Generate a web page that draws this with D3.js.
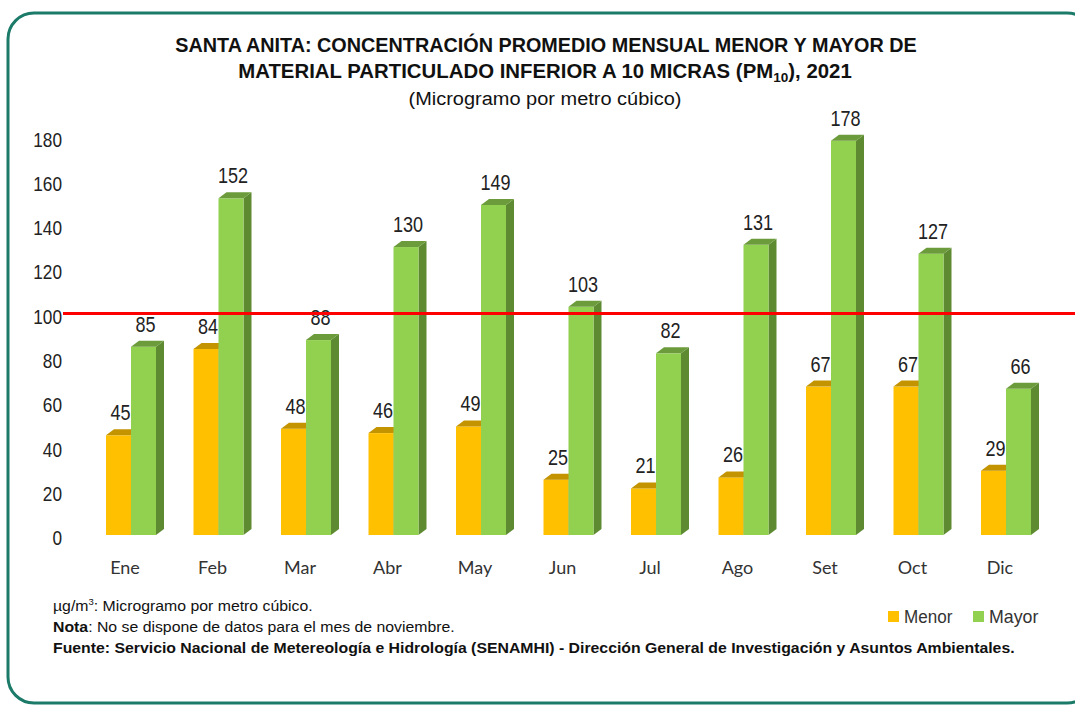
<!DOCTYPE html>
<html>
<head>
<meta charset="utf-8">
<script src="https://cdn.jsdelivr.net/npm/d3@7"></script>
<style>
  body { margin: 0; background: #fff; }
  text { font-family: "Liberation Sans", Arial, sans-serif; }
  .calib { font-family: Lato, "Open Sans", sans-serif; }
</style>
</head>
<body>
<div id="chart"></div>
<script>
// data
const months = ["Ene", "Feb", "Mar", "Abr", "May", "Jun", "Jul", "Ago", "Set", "Oct", "Dic"];
const menor = [45, 84, 48, 46, 49, 25, 21, 26, 67, 67, 29];
const mayor = [85, 152, 88, 130, 149, 103, 82, 131, 178, 127, 66];
const yTicks = [0, 20, 40, 60, 80, 100, 120, 140, 160, 180];
const limite = 100;
const seriesNames = ["Menor", "Mayor"];

const W = 1075, H = 706;
const depthX = 8, depthY = 6;
const squeeze = 0.82; // fake a narrow font

const colors = {
  Menor: { front: "#ffc000", top: "#c39300", side: "#b08500" },
  Mayor: { front: "#92d050", top: "#6c9b3b", side: "#5e8a32" }
};

const svg = d3.select("#chart").append("svg")
  .attr("width", W)
  .attr("height", H);

// squeeze a text horizontally around ax, either by factor or to a target width
function narrow(sel, ax, k) {
  sel.attr("transform", `translate(${ax},0) scale(${k},1) translate(${-ax},0)`);
}
function fitWidth(sel, ax, target) {
  const w = sel.node().getBBox().width;
  narrow(sel, ax, target / w);
}

// rounded frame
svg.append("rect")
  .attr("x", 8).attr("y", 13)
  .attr("width", 1085).attr("height", 690)
  .attr("rx", 26).attr("ry", 26)
  .attr("fill", "none")
  .attr("stroke", "#1b7a68")
  .attr("stroke-width", 3);

// titles
const t1 = svg.append("text")
  .attr("x", 546).attr("y", 52)
  .attr("text-anchor", "middle")
  .attr("font-weight", "bold")
  .attr("font-size", 19.5)
  .attr("fill", "#111")
  .text("SANTA ANITA: CONCENTRACIÓN  PROMEDIO MENSUAL MENOR Y MAYOR DE");
fitWidth(t1, 546, 742);

const t2 = svg.append("text")
  .attr("x", 545).attr("y", 78)
  .attr("text-anchor", "middle")
  .attr("font-weight", "bold")
  .attr("font-size", 19.5)
  .attr("fill", "#111");
t2.append("tspan").text("MATERIAL PARTICULADO INFERIOR A 10 MICRAS (PM");
t2.append("tspan").attr("font-size", 13).attr("dy", 4).text("10");
t2.append("tspan").attr("dy", -4).text("), 2021");
fitWidth(t2, 545, 614);

const sub = svg.append("text")
  .attr("x", 545).attr("y", 105)
  .attr("text-anchor", "middle")
  .attr("font-size", 19)
  .attr("fill", "#111")
  .text("(Microgramo por metro cúbico)");
fitWidth(sub, 545, 273);

// scales
const x = d3.scaleBand()
  .domain(months)
  .range([87.25, 1049.75])
  .paddingInner(0.4286)
  .paddingOuter(0.2143);

const xs = d3.scaleBand()
  .domain(seriesNames)
  .range([0, x.bandwidth()]);

const y = d3.scaleLinear()
  .domain([0, 180])
  .range([535, 535 - 180 * 2.215]);

// y axis labels (no line)
const yAxis = svg.append("g")
  .attr("transform", "translate(62,3)")
  .call(d3.axisLeft(y).tickValues(yTicks).tickSize(0).tickPadding(0));
yAxis.select(".domain").remove();
yAxis.selectAll("text")
  .attr("font-family", null)
  .attr("font-size", 21)
  .attr("fill", "#222")
  .attr("transform", `scale(${squeeze},1)`);

// bars
const rows = months.map((m, i) => ({ month: m, Menor: menor[i], Mayor: mayor[i] }));

const groups = svg.selectAll(".grp")
  .data(rows)
  .enter().append("g")
  .attr("class", "grp")
  .attr("transform", d => `translate(${x(d.month)},0)`);

seriesNames.forEach(s => {
  const bw = xs.bandwidth();
  const c = colors[s];
  const bar = groups.append("g");
  // side face
  bar.append("path")
    .attr("fill", c.side)
    .attr("d", d => {
      const x1 = xs(s) + bw, t = y(d[s]), b = y(0);
      return `M${x1},${t}L${x1 + depthX},${t - depthY}L${x1 + depthX},${b - depthY}L${x1},${b}Z`;
    });
  // front face
  bar.append("rect")
    .attr("fill", c.front)
    .attr("x", xs(s))
    .attr("y", d => y(d[s]))
    .attr("width", bw)
    .attr("height", d => y(0) - y(d[s]));
  // top face
  bar.append("path")
    .attr("fill", c.top)
    .attr("d", d => {
      const x0 = xs(s), t = y(d[s]);
      return `M${x0},${t}L${x0 + depthX},${t - depthY}L${x0 + bw + depthX},${t - depthY}L${x0 + bw},${t}Z`;
    });
  // value label
  const lx = xs(s) + bw / 2 + 2;
  bar.append("text")
    .attr("x", lx)
    .attr("y", d => y(d[s]) - 15)
    .attr("text-anchor", "middle")
    .attr("font-size", 22)
    .attr("fill", "#222")
    .text(d => d[s])
    .call(narrow, lx, squeeze);
});

// limit line
svg.append("line")
  .attr("x1", 63).attr("x2", W)
  .attr("y1", y(limite)).attr("y2", y(limite))
  .attr("stroke", "#ff0000")
  .attr("stroke-width", 3);

// month labels
svg.selectAll(".mlab")
  .data(months)
  .enter().append("text")
  .attr("class", "calib")
  .attr("x", d => x(d) + 19)
  .attr("y", 574)
  .attr("text-anchor", "middle")
  .attr("font-size", 18)
  .attr("fill", "#333")
  .text(d => d);

// legend
const legendW = [49, 50];
seriesNames.forEach((s, i) => {
  const lx = 888 + i * 85;
  svg.append("rect")
    .attr("x", lx).attr("y", 611)
    .attr("width", 11).attr("height", 11)
    .attr("fill", colors[s].front);
  svg.append("text")
    .attr("x", lx + 16).attr("y", 623)
    .attr("font-size", 19)
    .attr("fill", "#333")
    .text(s)
    .call(fitWidth, lx + 16, legendW[i]);
});

// notes
const n1 = svg.append("text").attr("x", 53).attr("y", 611).attr("font-size", 15).attr("fill", "#111");
n1.append("tspan").text("µg/m");
n1.append("tspan").attr("font-size", 9).attr("dy", -6).text("3");
n1.append("tspan").attr("dy", 6).text(": Microgramo por metro cúbico.");
fitWidth(n1, 53, 260);

const n2 = svg.append("text").attr("x", 53).attr("y", 632).attr("font-size", 15).attr("fill", "#111");
n2.append("tspan").attr("font-weight", "bold").text("Nota");
n2.append("tspan").text(": No se dispone de datos para el mes de noviembre.");
fitWidth(n2, 53, 402);

const n3 = svg.append("text").attr("x", 53).attr("y", 653).attr("font-size", 15)
  .attr("font-weight", "bold").attr("fill", "#111")
  .text("Fuente: Servicio Nacional de Metereología e Hidrología (SENAMHI) - Dirección General de Investigación y Asuntos Ambientales.");
fitWidth(n3, 53, 962);
</script>
</body>
</html>
